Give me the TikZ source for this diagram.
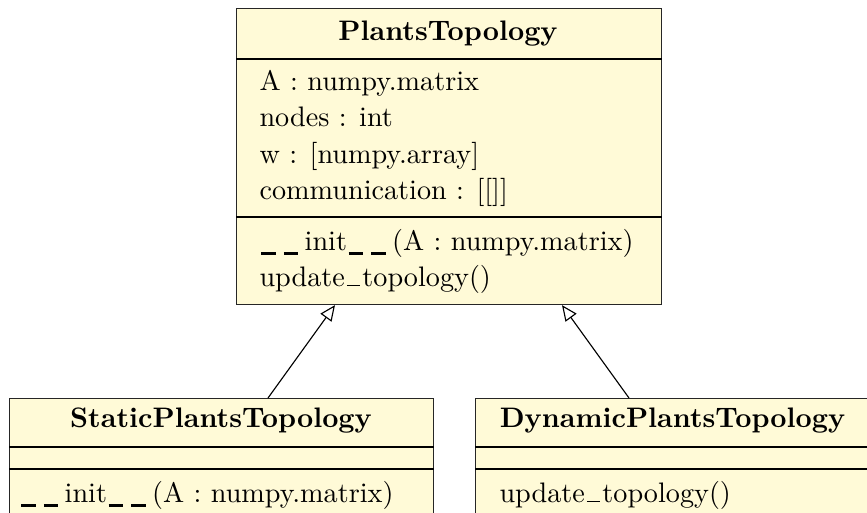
\documentclass[tikz,border=0pt]{standalone}
\usetikzlibrary{arrows.meta,calc}
\definecolor{umlfill}{RGB}{255,250,215}
\newcommand\pxu{0.3546pt}
\newcommand\thickus{\kern0.6pt\rule[-1.6pt]{5.2pt}{0.85pt}\kern2.2pt}
\newcommand\thinus{\kern0.7pt\rule{4.8pt}{0.4pt}\kern0.7pt}
\begin{document}
\begin{tikzpicture}[x=0.3546pt,y=-0.3546pt,
 umlbox/.style={draw=black!85, fill=umlfill, line width=0.4pt, rectangle, inner sep=0pt, anchor=north west},
 sepline/.style={draw=black, line width=0.4pt},
 txt/.style={anchor=base west, inner sep=0pt, font=\fontsize{10}{12}\selectfont},
 ttl/.style={anchor=base, inner sep=0pt, font=\fontsize{10}{12}\selectfont\bfseries},
 inherit/.style={draw=black, line width=0.4pt, -{Triangle[open,length=5.5pt,width=4.8pt]}}]
\clip (0,0) rectangle (867,513);
% top class
\node[umlbox, minimum width=425*\pxu, minimum height=296*\pxu] (top) at (236,8) {};
\draw[sepline] ([yshift=-51*\pxu]top.north west) -- ([yshift=-51*\pxu]top.north east);
\draw[sepline] ([yshift=-209*\pxu]top.north west) -- ([yshift=-209*\pxu]top.north east);
\node[ttl] (topttl) at (448,41) {PlantsTopology};
\node[txt] (ta1) at (259,91) {A : numpy.matrix};
\node[txt] (ta2) at (259,127) {nodes : int};
\node[txt] (ta3) at (259,163) {w : [numpy.array]};
\node[txt] (ta4) at (259,199) {communication : [[]]};
\node[txt] (tm1) at (259,250) {\thickus\thickus init\thickus\thickus(A : numpy.matrix)};
\node[txt] (tm2) at (259,286) {update\thinus topology()};
% static class
\node[umlbox, minimum width=424*\pxu, minimum height=150*\pxu] (sl) at (9,398) {};
\draw[sepline] ([yshift=-49*\pxu]sl.north west) -- ([yshift=-49*\pxu]sl.north east);
\draw[sepline] ([yshift=-71*\pxu]sl.north west) -- ([yshift=-71*\pxu]sl.north east);
\node[ttl] (slttl) at (221,427) {StaticPlantsTopology};
\node[txt] (slm1) at (19,502) {\thickus\thickus init\thickus\thickus(A : numpy.matrix)};
% dynamic class
\node[umlbox, minimum width=395*\pxu, minimum height=150*\pxu] (dy) at (475,398) {};
\draw[sepline] ([yshift=-49*\pxu]dy.north west) -- ([yshift=-49*\pxu]dy.north east);
\draw[sepline] ([yshift=-71*\pxu]dy.north west) -- ([yshift=-71*\pxu]dy.north east);
\node[ttl] (dyttl) at (672.5,427) {DynamicPlantsTopology};
\node[txt] (dym1) at (499,502) {update\thinus topology()};
% inheritance
\draw[inherit] ([xshift=259*\pxu]sl.north west) -- ([xshift=99*\pxu]top.south west);
\draw[inherit] ([xshift=154*\pxu]dy.north west) -- ([xshift=326*\pxu]top.south west);
\end{tikzpicture}
\end{document}
